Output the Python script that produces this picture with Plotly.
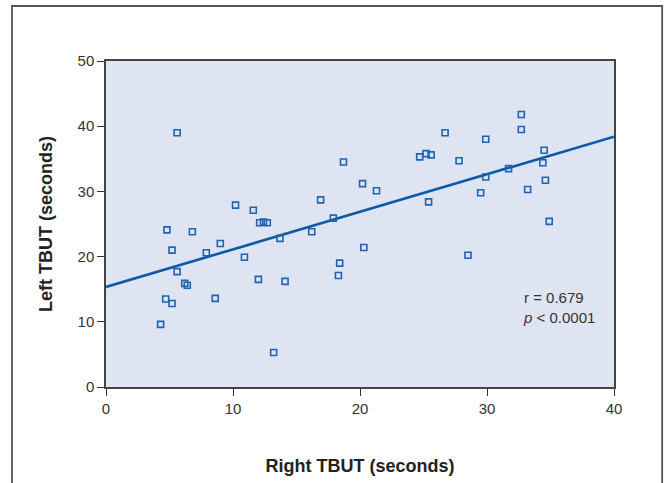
import plotly.graph_objects as go

right_tbut = [5.6, 10.2, 11.6, 12.1, 12.4, 12.7, 16.9, 18.7, 20.2, 17.9,
              21.3, 24.7, 25.2, 25.6, 26.7, 27.8, 25.4, 29.9, 29.9, 29.5,
              31.7, 32.7, 32.7, 33.2, 34.5, 34.4, 34.6, 34.9, 20.3, 28.5,
              4.8, 6.8, 5.2, 7.9, 9.0, 5.6, 6.2, 6.4, 4.7, 5.2,
              4.3, 8.6, 10.9, 12.0, 14.1, 13.2, 13.7, 16.2, 18.4, 18.3]
left_tbut = [39.0, 27.9, 27.1, 25.2, 25.3, 25.2, 28.7, 34.5, 31.2, 25.9,
             30.1, 35.3, 35.8, 35.6, 39.0, 34.7, 28.4, 38.0, 32.2, 29.8,
             33.5, 41.8, 39.5, 30.3, 36.3, 34.4, 31.7, 25.4, 21.4, 20.2,
             24.1, 23.8, 21.0, 20.6, 22.0, 17.7, 15.9, 15.6, 13.5, 12.8,
             9.6, 13.6, 19.9, 16.5, 16.2, 5.3, 22.8, 23.8, 19.0, 17.1]

fit_intercept = 15.35
fit_slope = 0.576
fit_x = [0, 40]
fit_y = [fit_intercept + fit_slope * v for v in fit_x]

x_ticks = [0, 10, 20, 30, 40]
y_ticks = [0, 10, 20, 30, 40, 50]
stats_text = "r = 0.679<br><i>p</i> < 0.0001"

fig = go.Figure()
fig.add_trace(go.Scatter(
    x=fit_x, y=fit_y, mode="lines",
    line=dict(color="#0d5aa7", width=2.6),
    hoverinfo="skip", showlegend=False))
fig.add_trace(go.Scatter(
    x=right_tbut, y=left_tbut, mode="markers",
    marker=dict(symbol="square-open", size=6, color="#1f63b1",
                line=dict(width=1.6, color="#1f63b1")),
    showlegend=False))

axis_font = dict(family="Liberation Sans, Arial, sans-serif", size=15, color="#333333")
title_font = dict(family="Liberation Sans, Arial, sans-serif", size=18, color="#222222")

fig.update_layout(
    width=664, height=483,
    margin=dict(l=105.7, r=49.7, t=60.7, b=96.3, autoexpand=False),
    paper_bgcolor="white",
    plot_bgcolor="#dfe4f2",
    xaxis=dict(
        range=[0, 40], tickvals=x_ticks, ticktext=[str(v) for v in x_ticks],
        showgrid=False, zeroline=False,
        showline=True, linecolor="#444444", linewidth=1.5, mirror=True,
        ticks="outside", ticklen=7, tickcolor="#333333", tickwidth=1,
        tickfont=axis_font,
        title=dict(text="<b>Right TBUT (seconds)</b>", font=title_font, standoff=44),
    ),
    yaxis=dict(
        range=[0, 50], tickvals=y_ticks, ticktext=[str(v) for v in y_ticks],
        showgrid=False, zeroline=False,
        showline=True, linecolor="#444444", linewidth=1.5, mirror=True,
        ticks="outside", ticklen=7, tickcolor="#333333", tickwidth=1,
        tickfont=axis_font,
        title=dict(text="<b>Left TBUT (seconds)</b>", font=title_font, standoff=20),
    ),
    annotations=[dict(
        x=32.7, y=12.2, xref="x", yref="y", text=stats_text,
        showarrow=False, xanchor="left", yanchor="middle", align="left",
        font=dict(family="Liberation Sans, Arial, sans-serif", size=15, color="#333333"),
    )],
    shapes=[dict(
        type="rect", xref="paper", yref="paper",
        x0=-0.185, x1=1.0948, y0=-0.35, y1=1.1687,
        line=dict(color="#555555", width=1.8), fillcolor="rgba(0,0,0,0)", layer="below",
    )],
)

fig.write_html("out.html", config={"displayModeBar": False},
               post_script="document.body.style.margin='0';document.body.style.overflow='hidden';")
